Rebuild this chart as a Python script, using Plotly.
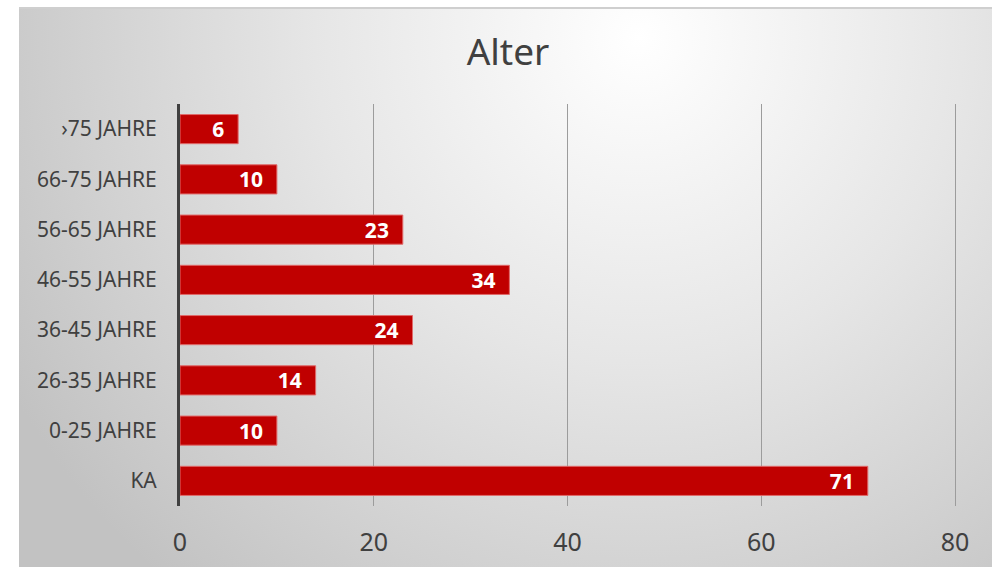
import base64
import plotly.graph_objects as go

# Age groups (bottom to top) and respondent counts
categories = ["KA", "0-25 JAHRE", "26-35 JAHRE", "36-45 JAHRE",
              "46-55 JAHRE", "56-65 JAHRE", "66-75 JAHRE", "›75 JAHRE"]
counts = [71, 10, 14, 24, 34, 23, 10, 6]
x_ticks = [0, 20, 40, 60, 80]

W, H = 992, 567
FONT = "Noto Sans"
TEXT = "#404040"
X_MAX = 81  # a little past 80 so the last gridline is drawn
PX_PER_UNIT = 775 / 80

# Radial grey-to-white backdrop for the chart frame
svg = """<svg xmlns='http://www.w3.org/2000/svg' width='973' height='559' viewBox='0 0 973 559' preserveAspectRatio='none'>
<defs><radialGradient id='g' gradientUnits='userSpaceOnUse' cx='620' cy='30' r='720'>
<stop offset='0' stop-color='#ffffff'/><stop offset='0.45' stop-color='#e6e6e6'/>
<stop offset='1' stop-color='#c2c2c2'/></radialGradient></defs>
<rect width='973' height='559' fill='url(#g)'/></svg>"""
bg_src = "data:image/svg+xml;base64," + base64.b64encode(svg.encode()).decode()

fig = go.Figure(go.Bar(
    y=categories, x=counts, orientation="h",
    marker=dict(color="#c00000", line=dict(color="#e06a6a", width=1)),
    width=0.58,
    text=[f"{v}\u00a0\u00a0" for v in counts],
    textposition="inside", insidetextanchor="end", textangle=0,
    textfont=dict(family=FONT, size=21, color="white", weight="bold"),
    constraintext="none",
    cliponaxis=False,
))

fig.update_layout(
    width=W, height=H,
    margin=dict(l=0, r=0, t=0, b=0, autoexpand=False),
    paper_bgcolor="white", plot_bgcolor="rgba(0,0,0,0)",
    showlegend=False,
    title=dict(text="Alter", x=508 / W, xanchor="center", y=1 - 52 / H, yanchor="middle",
               xref="paper", yref="container",
               font=dict(family=FONT, size=37, color=TEXT)),
    xaxis=dict(domain=[180 / W, (180 + PX_PER_UNIT * X_MAX) / W], range=[0, X_MAX],
               tickvals=x_ticks, automargin=False,
               showgrid=True, gridcolor="#9c9c9c", gridwidth=1, zeroline=False,
               showline=False, ticks="", ticklabelstandoff=19,
               tickfont=dict(family=FONT, size=25, color=TEXT)),
    yaxis=dict(domain=[1 - 506 / H, 1 - 104 / H], categoryorder="array",
               categoryarray=categories, range=[-0.5, 7.5], automargin=False,
               showline=True, linecolor="#404040", linewidth=3,
               showgrid=False, ticks="", ticklabelstandoff=16,
               tickfont=dict(family=FONT, size=21, color=TEXT)),
    images=[dict(source=bg_src, xref="paper", yref="paper",
                 x=19 / W, y=1 - 8 / H, sizex=(W - 19) / W, sizey=(H - 8) / H,
                 xanchor="left", yanchor="top", sizing="stretch", layer="below")],
    shapes=[dict(type="line", xref="paper", yref="paper",
                 x0=19 / W, x1=1, y0=1 - 8 / H, y1=1 - 8 / H,
                 line=dict(color="#cfcfcf", width=2))],
)

fig.write_html("out.html")
